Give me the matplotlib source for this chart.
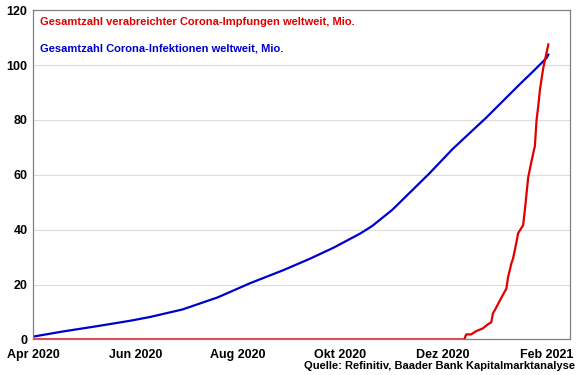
import matplotlib
matplotlib.use("Agg")
import matplotlib.pyplot as plt
import pandas as pd

plt.rcParams['font.family'] = ['Liberation Sans', 'DejaVu Sans']

# Gesamtzahl Corona-Infektionen weltweit, Mio.
inf_dates = ["2020-04-01", "2020-04-19", "2020-05-09", "2020-05-29", "2020-06-10",
             "2020-06-29", "2020-07-20", "2020-08-08", "2020-08-28", "2020-09-13",
             "2020-09-27", "2020-10-13", "2020-10-20", "2020-11-01", "2020-11-13",
             "2020-11-23", "2020-12-07", "2020-12-27", "2021-01-16", "2021-01-24",
             "2021-02-01", "2021-02-02"]
inf_values = [1.0, 2.9, 4.8, 6.8, 8.2,
              10.9, 15.3, 20.4, 25.2, 29.4,
              33.4, 38.6, 41.3, 47.2, 54.4,
              60.4, 69.4, 80.8, 93.0, 97.7,
              102.6, 103.8]

# Gesamtzahl verabreichter Corona-Impfungen weltweit, Mio.
vac_dates = ["2020-04-01", "2020-12-14", "2020-12-15", "2020-12-18", "2020-12-21",
             "2020-12-25", "2020-12-28", "2020-12-30", "2020-12-31", "2021-01-01",
             "2021-01-04", "2021-01-08", "2021-01-09", "2021-01-11", "2021-01-12",
             "2021-01-14", "2021-01-15", "2021-01-18", "2021-01-19", "2021-01-21",
             "2021-01-23", "2021-01-25", "2021-01-26", "2021-01-27", "2021-01-28",
             "2021-01-30", "2021-02-02"]
vac_values = [0.0, 0.0, 1.8, 1.8, 3.0,
              4.0, 5.5, 6.2, 9.5, 10.5,
              14.0, 18.5, 22.6, 27.7, 29.5,
              35.4, 38.7, 41.6, 47.0, 59.0,
              65.0, 70.5, 80.0, 85.0, 91.0,
              99.0, 107.5]

tick_dates = ["2020-04-01", "2020-06-01", "2020-08-01", "2020-10-01", "2020-12-01", "2021-02-01"]
tick_labels = ["Apr 2020", "Jun 2020", "Aug 2020", "Okt 2020", "Dez 2020", "Feb 2021"]
y_ticks = [0, 20, 40, 60, 80, 100, 120]

label_vac = "Gesamtzahl verabreichter Corona-Impfungen weltweit, Mio."
label_inf = "Gesamtzahl Corona-Infektionen weltweit, Mio."
source = "Quelle: Refinitiv, Baader Bank Kapitalmarktanalyse"

fig = plt.figure(figsize=(5.8, 3.75), dpi=100)
ax = fig.add_axes([0.057, 0.095, 0.926, 0.878])

ax.plot(pd.to_datetime(inf_dates), inf_values, color='#0000CC', lw=1.6)
ax.plot(pd.to_datetime(vac_dates), vac_values, color='#E00000', lw=1.6)

ax.set_ylim(0, 120)
ax.set_xlim(pd.Timestamp("2020-04-01"), pd.Timestamp("2021-02-15"))
ax.set_yticks(y_ticks)
ax.set_yticklabels([str(v) for v in y_ticks], fontsize=9, fontweight='bold')
ax.set_xticks(pd.to_datetime(tick_dates))
ax.set_xticklabels(tick_labels, fontsize=9, fontweight='bold')
ax.tick_params(axis='y', length=0, pad=4)
ax.tick_params(axis='x', length=0, pad=7)
ax.grid(axis='y', color='#DDDDDD', lw=0.8)
ax.set_axisbelow(True)
for s in ax.spines.values():
    s.set_color('#808080')
    s.set_linewidth(0.9)

ax.text(0.012, 0.963, label_vac, transform=ax.transAxes, color='#E00000',
        fontsize=8, fontweight='bold', va='center', ha='left')
ax.text(0.012, 0.882, label_inf, transform=ax.transAxes, color='#0000CC',
        fontsize=8, fontweight='bold', va='center', ha='left')

fig.text(0.992, 0.024, source, fontsize=8, fontweight='bold', ha='right', va='center')

fig.savefig("out.png", dpi=100)
